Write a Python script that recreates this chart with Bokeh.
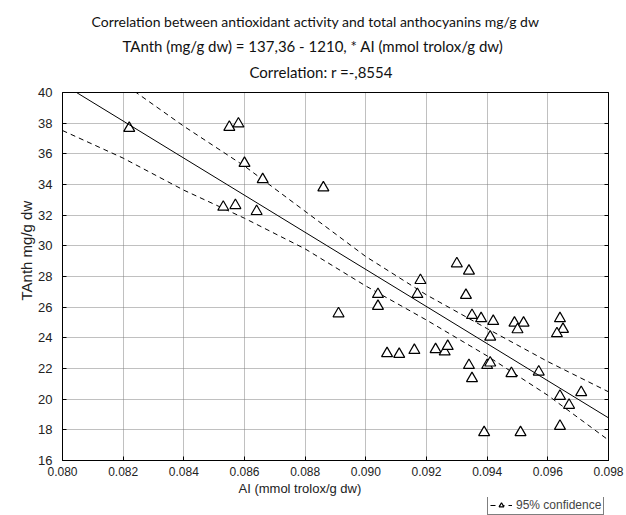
from bokeh.plotting import figure
from bokeh.layouts import column
from bokeh.models import (Title, Legend, LegendItem, LinearAxis, Slope, Range1d, FixedTicker,
                          CustomJSTickFormatter)
from bokeh.embed import file_html
from bokeh.resources import INLINE

# Data
ai = [0.0822, 0.0855, 0.0858, 0.0860, 0.0866, 0.0886, 0.0853, 0.0857, 0.0864, 0.0891,
      0.0930, 0.0934, 0.0918, 0.0904, 0.0904, 0.0917, 0.0933, 0.0935, 0.0938, 0.0942,
      0.0949, 0.0952, 0.0950, 0.0964, 0.0965, 0.0963, 0.0941, 0.0907, 0.0911, 0.0916,
      0.0923, 0.0926, 0.0927, 0.0934, 0.0935, 0.0940, 0.0941, 0.0948, 0.0957, 0.0964,
      0.0967, 0.0971, 0.0964, 0.0939, 0.0951]
tanth = [37.67, 37.74, 37.96, 35.39, 34.33, 33.79, 32.53, 32.64, 32.25, 25.58,
         28.84, 28.36, 27.75, 26.84, 26.06, 26.84, 26.78, 25.47, 25.26, 25.08,
         24.97, 24.97, 24.54, 25.26, 24.56, 24.28, 24.06, 22.98, 22.93, 23.19,
         23.24, 23.09, 23.45, 22.21, 21.35, 22.21, 22.37, 21.68, 21.78, 20.20,
         19.61, 20.44, 18.24, 17.83, 17.83]

# Regression (from the chart title)
intercept = 137.36
slope = -1210

# 95% confidence band
band_x = [0.080, 0.082, 0.084, 0.086, 0.088, 0.090, 0.092, 0.094, 0.096, 0.098]
band_upper = [43.6, 40.6, 37.8, 35.2, 32.25, 29.3, 26.8, 24.6, 22.45, 20.48]
band_lower = [37.52, 35.72, 33.63, 31.8, 29.8, 27.38, 25.16, 22.82, 20.25, 17.33]

x_ticks = [0.080, 0.082, 0.084, 0.086, 0.088, 0.090, 0.092, 0.094, 0.096, 0.098]
y_ticks = [16, 18, 20, 22, 24, 26, 28, 30, 32, 34, 36, 38, 40]

title1 = "Correlation between antioxidant activity and total anthocyanins mg/g dw"
title2 = "TAnth (mg/g dw) = 137,36 - 1210,  * AI (mmol trolox/g dw)"
title3 = "Correlation: r =-,8554"
x_label = "AI (mmol trolox/g dw)"
y_label = "TAnth mg/g dw"
legend_label = "95% confidence"

TFONT = "Lato"
AFONT = "Liberation Sans"

W = 626
MAIN_H, LEG_H = 497, 18
FL, FT, FB = 62, 92, 460   # frame left / top / bottom in page pixels

p = figure(width=W, height=MAIN_H, x_range=Range1d(0.080, 0.098), y_range=Range1d(16, 40),
           output_backend="svg", toolbar_location=None,
           min_border_left=FL, min_border_right=18, min_border_top=FT,
           min_border_bottom=MAIN_H - FB, x_axis_location=None, y_axis_location=None)
p.title = None
p.outline_line_color = "black"
p.outline_line_width = 1
p.background_fill_color = "white"
p.border_fill_color = "white"

xaxis = LinearAxis(ticker=FixedTicker(ticks=x_ticks))
yaxis = LinearAxis(ticker=FixedTicker(ticks=y_ticks))
raxis = LinearAxis(ticker=FixedTicker(ticks=y_ticks))
for ax in (xaxis, yaxis, raxis):
    ax.major_tick_in = 4
    ax.major_tick_out = 0
    ax.minor_tick_in = 0
    ax.minor_tick_out = 0
    ax.axis_line_color = "black"
    ax.major_tick_line_color = "black"
    ax.major_label_text_font = AFONT
    ax.major_label_text_color = "#222222"
xaxis.formatter = CustomJSTickFormatter(code="return tick.toFixed(3);")
xaxis.major_label_text_font_size = "12px"
xaxis.major_label_standoff = 6
yaxis.major_label_text_font_size = "13px"
yaxis.major_label_standoff = 10
raxis.formatter = CustomJSTickFormatter(code="return '';")
raxis.major_label_standoff = 0
p.add_layout(xaxis, "below")
p.add_layout(yaxis, "left")
p.add_layout(raxis, "right")

p.xgrid.ticker = FixedTicker(ticks=x_ticks)
p.ygrid.ticker = FixedTicker(ticks=y_ticks)
p.grid.grid_line_color = "#808080"
p.grid.grid_line_dash = "1 1"
p.grid.grid_line_width = 1

# Title lines (added from the one nearest the plot outwards)
t3 = Title(text=title3, align="left", offset=313 - FL - 64, text_font=TFONT,
           text_font_size="15px", text_font_style="normal", text_color="#111111", standoff=23)
t2 = Title(text=title2, align="left", offset=313 - FL - 191, text_font=TFONT,
           text_font_size="15px", text_font_style="normal", text_color="#111111", standoff=-10)
t1 = Title(text=title1, align="left", offset=313 - FL - 222, text_font=TFONT,
           text_font_size="14px", text_font_style="normal", text_color="#111111", standoff=20)
p.add_layout(t3, "above")
p.add_layout(t2, "above")
p.add_layout(t1, "above")

# Axis labels
xl = Title(text=x_label, align="left", offset=176, text_font=AFONT, text_font_size="13px",
           text_font_style="normal", text_color="#222222", standoff=1)
p.add_layout(xl, "below")
yl = Title(text=y_label, align="left", offset=160, text_font=AFONT, text_font_size="15px",
           text_font_style="normal", text_color="#222222", standoff=1)
p.add_layout(yl, "left")

# Regression line and confidence bands
reg = Slope(gradient=slope, y_intercept=intercept, line_color="black", line_width=1)
p.add_layout(reg)
up = p.line(band_x, band_upper, line_color="black", line_width=1, line_dash="5 4")
lo = p.line(band_x, band_lower, line_color="black", line_width=1, line_dash="5 4")
pts = p.scatter(ai, tanth, marker="triangle", size=11, line_color="black", line_width=1.2,
                fill_color="white")

# Legend strip below the chart (its own small figure, so the box is not clipped).
# Its renderers reuse the chart data but fall outside this strip's ranges.
lf = figure(width=W, height=LEG_H, x_range=Range1d(0, 1), y_range=Range1d(0, 1),
            output_backend="svg", toolbar_location=None,
            min_border_left=0, min_border_right=0, min_border_top=0, min_border_bottom=0,
            x_axis_location=None, y_axis_location=None)
lf.title = None
lf.outline_line_color = None
lf.grid.visible = False
lf.background_fill_color = "white"
lf.border_fill_color = "white"
l_up = lf.line(band_x, band_upper, line_color="black", line_width=1, line_dash="5 4")
l_pt = lf.scatter(ai, tanth, marker="triangle", size=10, line_color="black", line_width=1.2,
                  fill_color="white")
legend = Legend(items=[LegendItem(label=legend_label, renderers=[l_up, l_pt])],
                location=(487 - FL, 0), orientation="horizontal",
                border_line_color="black", border_line_width=1,
                background_fill_color="white", background_fill_alpha=1,
                label_text_font=AFONT, label_text_font_size="12px",
                glyph_width=22, glyph_height=12, label_height=12,
                padding=2, margin=0, spacing=0, label_standoff=4)
lf.add_layout(legend)

layout = column(p, lf, spacing=0)
open("out.html", "w").write(file_html(layout, INLINE))
